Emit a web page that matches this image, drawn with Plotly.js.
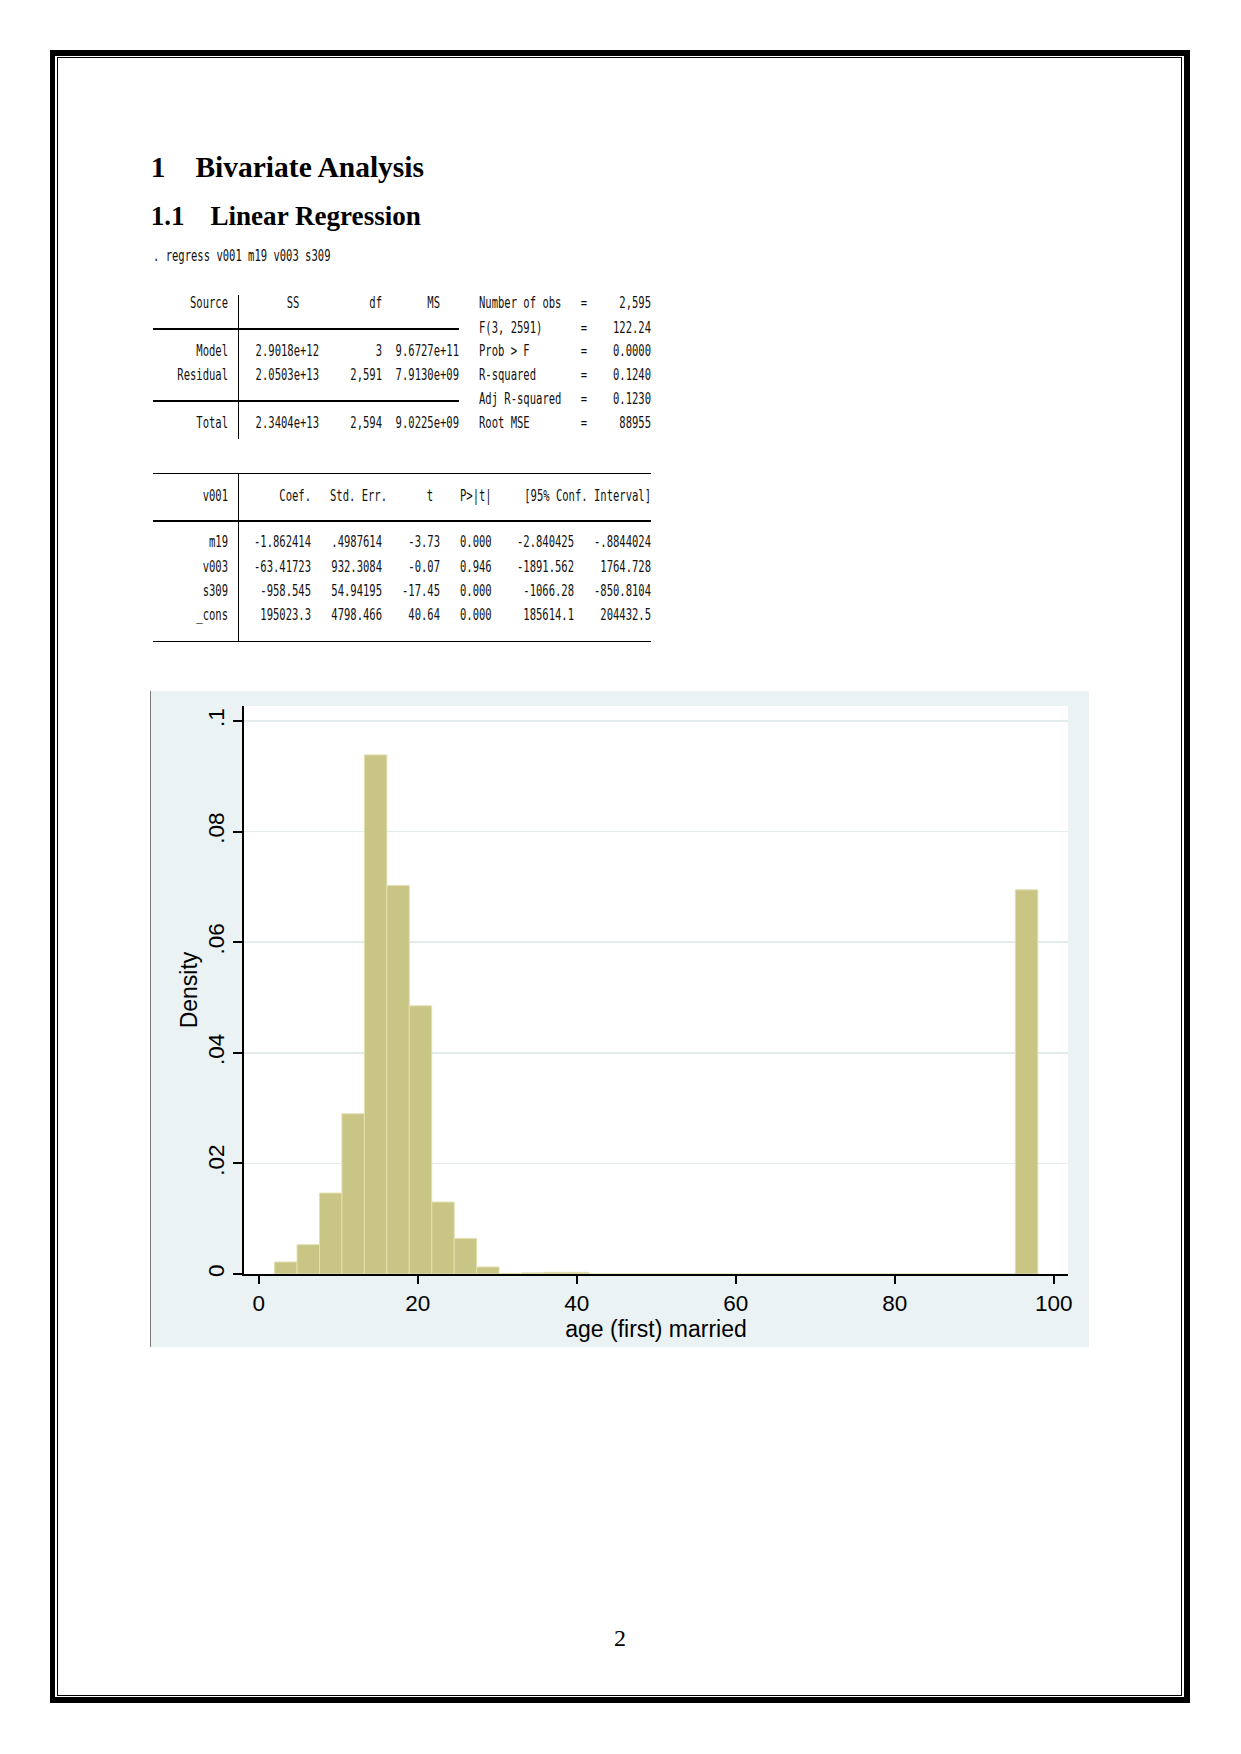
<!DOCTYPE html>
<html><head><meta charset="utf-8">
<script src="https://cdn.plot.ly/plotly-3.0.1.min.js"></script>
<style>
html,body{margin:0;padding:0;background:#fff;}
#page{position:relative;width:1241px;height:1754px;overflow:hidden;background:#fff;}
.m{position:absolute;font-family:'DejaVu Sans Mono',monospace;font-size:16px;line-height:20px;height:20px;white-space:pre;color:#111;transform-origin:0 0;}
.h{position:absolute;font-family:'Liberation Serif','Times New Roman',serif;font-weight:bold;white-space:pre;color:#000;}
.ln{position:absolute;background:#000;}
#outer{position:absolute;left:50px;top:50px;width:1140px;height:1653px;box-sizing:border-box;border:6px solid #000;border-left-width:5px;}
#inner{position:absolute;left:57px;top:57px;width:1125px;height:1639px;box-sizing:border-box;border:1.3px solid #000;}
#chart{position:absolute;left:150px;top:691px;width:939px;height:656px;}
#chartEdge{position:absolute;left:150px;top:691px;width:1px;height:656px;background:#7a7a7a;}
#pnum{position:absolute;font-family:'Liberation Serif','Times New Roman',serif;font-size:24px;line-height:24px;color:#000;}
</style></head>
<body><div id="page">
<div id="outer"></div><div id="inner"></div>
<div id="chart"></div><div id="chartEdge"></div>
</div>
<script>
// ---- document text ----
const headingMain = ['1', 'Bivariate Analysis'];
const headingSub = ['1.1', 'Linear Regression'];
const commandLine = '. regress v001 m19 v003 s309';
const pageNumber = '2';

// ---- ANOVA table ----
const anovaHeader = ['Source', 'SS', 'df', 'MS'];
const anovaSource = ['Model', 'Residual', 'Total'];
const anovaSS = ['2.9018e+12', '2.0503e+13', '2.3404e+13'];
const anovaDf = ['3', '2,591', '2,594'];
const anovaMS = ['9.6727e+11', '7.9130e+09', '9.0225e+09'];
const statLabels = ['Number of obs', 'F(3, 2591)', 'Prob > F', 'R-squared', 'Adj R-squared', 'Root MSE'];
const statValues = ['2,595', '122.24', '0.0000', '0.1240', '0.1230', '88955'];

// ---- coefficient table ----
const coefHeader = ['v001', 'Coef.', 'Std. Err.', 't', 'P>|t|', '[95% Conf. Interval]'];
const coefVars = ['m19', 'v003', 's309', '_cons'];
const coefs = ['-1.862414', '-63.41723', '-958.545', '195023.3'];
const stdErrs = ['.4987614', '932.3084', '54.94195', '4798.466'];
const tStats = ['-3.73', '-0.07', '-17.45', '40.64'];
const pValues = ['0.000', '0.946', '0.000', '0.000'];
const ciLow = ['-2.840425', '-1891.562', '-1066.28', '185614.1'];
const ciHigh = ['-.8844024', '1764.728', '-850.8104', '204432.5'];

// ---- histogram: age (first) married, 34 bins from 2 to 98 ----
const binMin = 2;
const binMax = 98;
const densities = [0.00217, 0.0053, 0.01464, 0.02897, 0.09386, 0.07023, 0.04849, 0.01301,
  0.00643, 0.00127, 0.0001, 0.0002, 0.0003, 0.0003, 0, 0, 0, 0, 0, 0, 0, 0, 0, 0, 0, 0,
  0, 0, 0, 0, 0, 0, 0, 0.06946];
const xTickVals = [0, 20, 40, 60, 80, 100];
const yTickVals = [0, 0.02, 0.04, 0.06, 0.08, 0.1];
const yTickText = ['0', '.02', '.04', '.06', '.08', '.1'];
const xTitle = 'age (first) married';
const yTitle = 'Density';

// ---- layout helpers ----
const page = document.getElementById('page');
const K = 0.658; // horizontal condensation of the output font
function put(text, x, yc, align) {
  const d = document.createElement('div');
  d.className = 'm';
  d.textContent = text;
  d.style.left = x + 'px';
  d.style.top = (yc - 10) + 'px';
  let t = 'scaleX(' + K + ')';
  if (align === 'right') t += ' translateX(-100%)';
  else if (align === 'center') t += ' translateX(-50%)';
  d.style.transform = t;
  page.appendChild(d);
}
function hline(x1, x2, y) {
  const d = document.createElement('div'); d.className = 'ln';
  d.style.left = x1 + 'px'; d.style.width = (x2 - x1) + 'px';
  d.style.top = (y - 0.6) + 'px'; d.style.height = '1.2px';
  page.appendChild(d);
}
function vline(x, y1, y2) {
  const d = document.createElement('div'); d.className = 'ln';
  d.style.left = (x - 0.6) + 'px'; d.style.width = '1.2px';
  d.style.top = y1 + 'px'; d.style.height = (y2 - y1) + 'px';
  page.appendChild(d);
}
function heading(text, x, baseline, size) {
  const d = document.createElement('div');
  d.className = 'h';
  d.textContent = text;
  d.style.fontSize = size + 'px';
  d.style.lineHeight = size + 'px';
  d.style.left = x + 'px';
  d.style.top = (baseline - 0.8375 * size) + 'px';
  page.appendChild(d);
}

// headings
heading(headingMain[0], 150.7, 177.5, 29.5);
heading(headingMain[1], 195.4, 177.5, 29.5);
heading(headingSub[0], 150.7, 225.5, 27.1);
heading(headingSub[1], 210.4, 225.5, 27.1);

// command
put(commandLine, 152.5, 255.7, 'left');

// ANOVA table
const aRows = [303, 327.7, 351, 375, 399, 423];
const aDataRows = [aRows[2], aRows[3], aRows[5]];
put(anovaHeader[0], 228.2, aRows[0], 'right');
put(anovaHeader[1], 292.9, aRows[0], 'center');
put(anovaHeader[2], 382.1, aRows[0], 'right');
put(anovaHeader[3], 440, aRows[0], 'right');
anovaSource.forEach((s, i) => put(s, 228.2, aDataRows[i], 'right'));
anovaSS.forEach((s, i) => put(s, 318.6, aDataRows[i], 'right'));
anovaDf.forEach((s, i) => put(s, 382.1, aDataRows[i], 'right'));
anovaMS.forEach((s, i) => put(s, 458.9, aDataRows[i], 'right'));
statLabels.forEach((s, i) => put(s, 478.6, aRows[i], 'left'));
statLabels.forEach((s, i) => put('=', 583.9, aRows[i], 'center'));
statValues.forEach((s, i) => put(s, 650.7, aRows[i], 'right'));
hline(152.5, 458.9, 329);
hline(152.5, 458.9, 401);
vline(238.2, 295, 438.5);

// coefficient table
const cHead = 496;
const cRows = [542, 566.7, 591, 615];
put(coefHeader[0], 228.2, cHead, 'right');
put(coefHeader[1], 311.4, cHead, 'right');
put(coefHeader[2], 387.1, cHead, 'right');
put(coefHeader[3], 430.4, cHead, 'center');
put(coefHeader[4], 459.6, cHead, 'left');
put(coefHeader[5], 650.7, cHead, 'right');
coefVars.forEach((s, i) => put(s, 228.2, cRows[i], 'right'));
coefs.forEach((s, i) => put(s, 311.4, cRows[i], 'right'));
stdErrs.forEach((s, i) => put(s, 382.1, cRows[i], 'right'));
tStats.forEach((s, i) => put(s, 440, cRows[i], 'right'));
pValues.forEach((s, i) => put(s, 459.6, cRows[i], 'left'));
ciLow.forEach((s, i) => put(s, 573.9, cRows[i], 'right'));
ciHigh.forEach((s, i) => put(s, 650.7, cRows[i], 'right'));
hline(152.5, 651.4, 473.3);
hline(152.5, 651.4, 521);
hline(152.5, 651.4, 641.7);
vline(238.2, 473.3, 641.7);

// page number
const pn = document.createElement('div');
pn.id = 'pnum'; pn.textContent = pageNumber;
pn.style.left = '620px'; pn.style.top = '1626px';
pn.style.transform = 'translateX(-50%)';
page.appendChild(pn);

// ---- histogram ----
const nBins = densities.length;
const binW = (binMax - binMin) / nBins;
const centers = densities.map((_, i) => binMin + binW * (i + 0.5));

const trace = {
  type: 'bar',
  x: centers,
  y: densities,
  width: densities.map(() => binW),
  marker: { color: '#C9C584', line: { color: '#E2DFB0', width: 1 } },
  hoverinfo: 'skip'
};

const layout = {
  width: 939, height: 656,
  margin: { l: 94, r: 21, t: 15, b: 73, pad: 0 },
  paper_bgcolor: '#EAF2F3',
  plot_bgcolor: '#FFFFFF',
  font: { family: 'Liberation Sans, Arial, sans-serif', color: '#000', size: 22.5 },
  showlegend: false,
  bargap: 0,
  xaxis: {
    range: [-1.85, 101.8], tickvals: xTickVals, ticktext: xTickVals.map(String),
    ticks: 'outside', ticklen: 8, tickwidth: 2, tickcolor: '#000',
    showline: true, linewidth: 2, linecolor: '#000',
    showgrid: false, zeroline: false, automargin: false,
    tickfont: { size: 22.5, color: '#000' },
    title: { text: xTitle, font: { size: 23, color: '#000' }, standoff: 0 }
  },
  yaxis: {
    range: [0, 0.1027], tickvals: yTickVals, ticktext: yTickText, tickangle: -90,
    ticks: 'outside', ticklen: 9, tickwidth: 2, tickcolor: '#000',
    showline: true, linewidth: 2, linecolor: '#000',
    showgrid: true, gridcolor: '#E3EBED', gridwidth: 1.5, zeroline: false, automargin: false,
    tickfont: { size: 22.5, color: '#000' },
    title: { text: yTitle, font: { size: 23, color: '#000' }, standoff: 0 }
  }
};

Plotly.newPlot('chart', [trace], layout, { staticPlot: true, displayModeBar: false });
</script>
</body></html>
